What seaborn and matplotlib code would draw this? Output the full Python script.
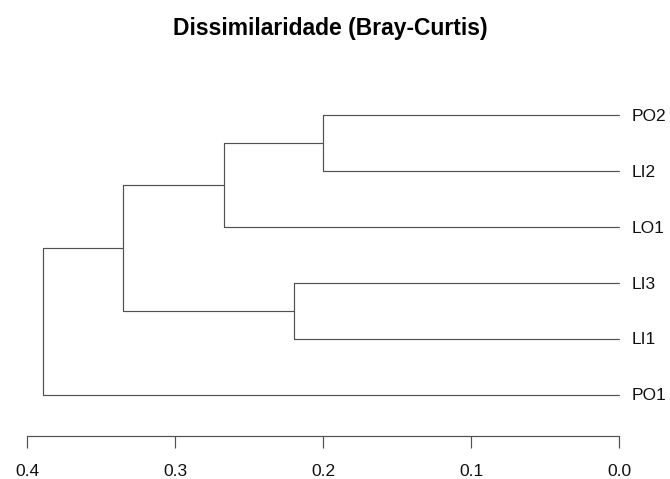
import matplotlib
matplotlib.use("Agg")
import matplotlib.pyplot as plt
import seaborn as sns
import pandas as pd

# Leaves listed bottom to top, as drawn on the vertical axis
leaves = ["PO1", "LI1", "LI3", "LO1", "LI2", "PO2"]

# Agglomeration steps: (left child, right child, Bray-Curtis height)
merge_left = ["PO2", "m1", "LI3", "m2", "m4"]
merge_right = ["LI2", "LO1", "LI1", "m3", "PO1"]
merge_height = [0.200, 0.267, 0.220, 0.335, 0.3895]
merge_names = ["m1", "m2", "m3", "m4", "m5"]

axis_ticks = [0.4, 0.3, 0.2, 0.1, 0.0]
title = "Dissimilaridade (Bray-Curtis)"

sns.set_theme(style="white")
plt.rcParams["font.family"] = ["Liberation Sans", "DejaVu Sans"]

# Node positions: y = vertical position, h = merge height
pos = {name: (i + 1, 0.0) for i, name in enumerate(leaves)}
rows = []
seg = 0
for name, a, b, h in zip(merge_names, merge_left, merge_right, merge_height):
    ya, ha = pos[a]
    yb, hb = pos[b]
    # horizontal legs from each child to the merge height, plus the joining vertical
    for x0, x1, y0, y1 in [(ha, h, ya, ya), (hb, h, yb, yb), (h, h, ya, yb)]:
        rows.append({"seg": seg, "x": x0, "y": y0})
        rows.append({"seg": seg, "x": x1, "y": y1})
        seg += 1
    pos[name] = ((ya + yb) / 2.0, h)
segments = pd.DataFrame(rows)

fig = plt.figure(figsize=(6.7, 4.79), dpi=100)
ax = fig.add_axes([19 / 670, 1 - 406 / 479, (642 - 19) / 670, (406 - 104) / 479])

sns.lineplot(data=segments, x="x", y="y", units="seg", estimator=None,
             sort=False, color="#505050", linewidth=0.85, ax=ax, legend=False)

top = max(merge_height)
ax.set_xlim(0.4056, -0.04 * top)
ax.set_ylim(1 - 0.04 * 5, len(leaves) + 0.04 * 5)

# Leaf labels just right of the leaf ends
ax.set_yticks([])
for i, name in enumerate(leaves):
    ax.annotate(name, xy=(0.0, i + 1), xytext=(9.4, -0.8), textcoords="offset points",
                ha="left", va="center", fontsize=12.5, color="#111111",
                annotation_clip=False)

# Height axis below the plot
for s in ["top", "left", "right"]:
    ax.spines[s].set_visible(False)
ax.spines["bottom"].set_position(("outward", 21.6))
ax.spines["bottom"].set_bounds(0.0, 0.4)
ax.spines["bottom"].set_color("#505050")
ax.spines["bottom"].set_linewidth(0.85)
ax.set_xticks(axis_ticks)
ax.set_xticklabels([f"{t:.1f}" for t in axis_ticks], fontsize=12.5, color="#111111")
ax.tick_params(axis="x", length=8.6, width=0.85, color="#505050", pad=11.5, bottom=True)
ax.set_xlabel("")
ax.set_ylabel("")
ax.grid(False)

fig.text(330 / 670, 1 - 28 / 479, title, ha="center", va="center",
         fontsize=16.5, fontweight="bold", color="#000000")

fig.savefig("out.png", dpi=100, facecolor="white")
